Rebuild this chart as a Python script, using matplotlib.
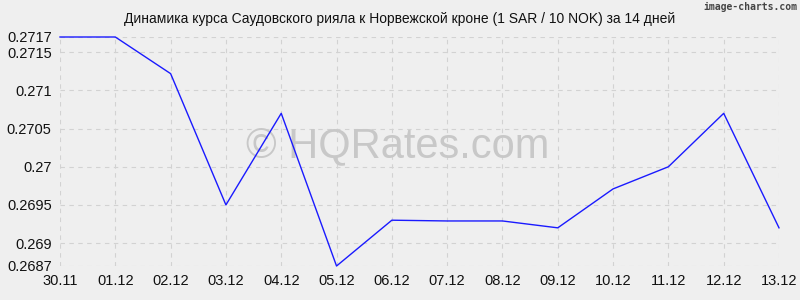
import matplotlib
matplotlib.use("Agg")
import matplotlib.pyplot as plt

dates = ["30.11", "01.12", "02.12", "03.12", "04.12", "05.12", "06.12",
         "07.12", "08.12", "09.12", "10.12", "11.12", "12.12", "13.12"]
rates = [0.2717, 0.2717, 0.27122, 0.2695, 0.2707, 0.2687, 0.26930,
         0.26929, 0.26929, 0.2692, 0.26971, 0.2700, 0.2707, 0.2692]
yticks = [0.2687, 0.269, 0.2695, 0.27, 0.2705, 0.271, 0.2715, 0.2717]
ytick_labels = ["0.2687", "0.269", "0.2695", "0.27", "0.2705", "0.271", "0.2715", "0.2717"]
title = "Динамика курса Саудовского рияла к Норвежской кроне (1 SAR / 10 NOK) за 14 дней"

plt.rcParams['font.family'] = ['Liberation Sans', 'DejaVu Sans']
bg = "#efefef"
fig = plt.figure(figsize=(8, 3), dpi=100, facecolor=bg)
ax = fig.add_axes([60/800, 1-266/300, (779-60)/800, (266-37)/300], facecolor=bg)
x = list(range(len(dates)))
ax.set_xlim(0, len(dates)-1)
ax.set_ylim(min(yticks), max(yticks))
ax.set_xticks(x)
ax.set_xticklabels(dates, fontsize=10.5, color="#111111")
ax.set_yticks(yticks)
ax.set_yticklabels(ytick_labels, fontsize=10.5, color="#111111")
ax.tick_params(length=0, pad=6)
for s in ax.spines.values():
    s.set_visible(False)
ax.grid(True, color="#d2d2d2", linestyle=(0, (4, 4)), linewidth=0.8)
ax.set_axisbelow(True)
ax.text(0.47, 0.525, "© HQRates.com", transform=ax.transAxes, ha="center", va="center",
        fontsize=30, color="#c8c8c8", family="Liberation Sans", zorder=1)
ax.plot(x, rates, color="#1a1aff", linewidth=1.0, zorder=3, clip_on=False)
fig.text(400/800, 1-19/300, title, ha="center", va="center", fontsize=10, color="#111111")
fig.text(797/800, 1-7/300, "image-charts.com", ha="right", va="center", fontsize=7,
         color="#444444", family="DejaVu Sans Mono", fontweight="bold")
fig.savefig("out.png", dpi=100, facecolor=bg)
